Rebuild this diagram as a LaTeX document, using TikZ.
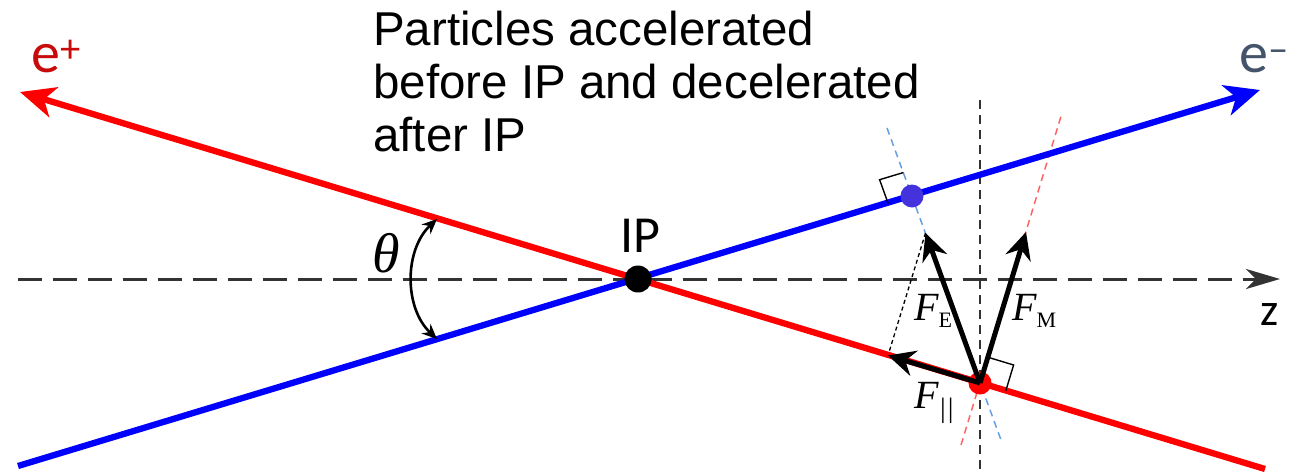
\documentclass[tikz,border=0pt]{standalone}
\usepackage{fontspec}
\setmainfont{Liberation Sans}
\newfontfamily\tmsfont{Liberation Serif}
\newfontfamily\carfont{Carlito}
\usetikzlibrary{arrows.meta}
\definecolor{eminus}{RGB}{68,84,106}
\definecolor{eplus}{RGB}{200,10,10}
\definecolor{bluedot}{RGB}{68,51,221}
\definecolor{lightblue}{RGB}{100,160,225}
\definecolor{lightred}{RGB}{255,100,100}
\begin{document}
\begin{tikzpicture}[x=1pt,y=-1pt,
  beam/.style={line width=6.3pt,-{Stealth[length=35pt,width=31pt,inset=10pt]}},
  axisline/.style={line width=3pt,black!80,dash pattern=on 24pt off 11pt},
  vline/.style={line width=1.7pt,black!80,dash pattern=on 9pt off 6pt},
  thindash/.style={line width=1.5pt,dash pattern=on 7pt off 5pt},
  force/.style={line width=5pt,black,-{Stealth[length=27pt,width=26pt,inset=9pt]}},
  dotnode/.style={circle,inner sep=0pt,minimum size=#1},
  lab/.style={inner sep=0pt}]
\useasboundingbox (0,0) rectangle (1302,474);
% coordinates
\coordinate (ep) at (20,92);
\coordinate (rend) at (1265,469);
\coordinate (bstart) at (18,466);
\coordinate (em) at (1260,90);
\coordinate (zs) at (18,279);
\coordinate (zt) at (1280,279);
\coordinate (vt) at (980,100);
\coordinate (vb) at (980,474);
\coordinate (bdt) at (887,128);
\coordinate (bdb) at (1001,440);
\coordinate (rdt) at (1062,113);
\coordinate (rdb) at (961,445);
\coordinate (fe) at (925.5,233);
\coordinate (fm) at (1026,232);
\coordinate (fp) at (888,355.5);
\coordinate (ta) at (437,219);
\coordinate (tb) at (437,339);
% axes
\draw[axisline,-{Stealth[length=34pt,width=20pt,inset=10pt]}] (zs) -- (zt);
\draw[vline] (vt) -- (vb);
% thin dashed helper lines
\draw[thindash,lightblue] (bdt) -- (bdb);
\draw[thindash,lightred] (rdb) -- (rdt);
\draw[line width=1.3pt,black,dash pattern=on 4pt off 3pt] (fe) -- (fp);
% beams
\draw[beam,red] (rend) -- (ep);
\draw[beam,blue] (bstart) -- (em);
% dots
\node[dotnode=27pt,fill=black] (IP) at (638,279) {};
\node[dotnode=23pt,fill=bluedot] (bd) at (912,196) {};
\node[dotnode=23pt,fill=red] (rd) at (980,383) {};
% right angle markers
\draw[line width=1.4pt] (888.1,203.3) -- (879.6,179.7) -- (903.5,172.5);
\draw[line width=1.4pt] (1005.8,390.8) -- (1013.6,365) -- (987.8,357.2);
% forces
\draw[force] (rd.center) -- (fe);
\draw[force] (rd.center) -- (fm);
\draw[force] (rd.center) -- (fp);
% theta arc
\draw[line width=2.6pt,{Stealth[length=15pt,width=13pt]}-{Stealth[length=15pt,width=13pt]}] (ta) .. controls (404,250) and (404,308) .. (tb);
% labels
\node[lab,anchor=north west,align=left,font=\fontsize{47.5}{53}\selectfont] (txt) at (373,11) {Particles accelerated\\before IP and decelerated\\after IP};
\node[lab,anchor=base west,text=eplus,font=\carfont\fontsize{58}{58}\selectfont] (lep) at (31,72) {e\textsuperscript{+}};
\node[lab,anchor=base west,text=eminus,font=\carfont\fontsize{58}{58}\selectfont] (lem) at (1239,72) {e\textsuperscript{–}};
\node[lab,anchor=base,font=\carfont\fontsize{52}{52}\selectfont] (lip) at (640,252) {IP};
\node[lab,anchor=base,font=\carfont\fontsize{46}{46}\selectfont] (lz) at (1270,325) {z};
\node[lab,anchor=center,font=\tmsfont\itshape\fontsize{56}{56}\selectfont] (lth) at (386,253) {θ};
\node[lab,anchor=base west] (lfe) at (914,320) {\tmsfont\fontsize{40}{40}\selectfont\itshape F\raisebox{-7pt}{\upshape\fontsize{22}{22}\selectfont E}};
\node[lab,anchor=base west] (lfm) at (1012,320) {\tmsfont\fontsize{40}{40}\selectfont\itshape F\raisebox{-7pt}{\upshape\fontsize{22}{22}\selectfont M}};
\node[lab,anchor=base west] (lfp) at (914,408) {\tmsfont\fontsize{40}{40}\selectfont\itshape F\raisebox{-9pt}{\fontsize{28}{28}\selectfont\itshape ||}};
\end{tikzpicture}
\end{document}
